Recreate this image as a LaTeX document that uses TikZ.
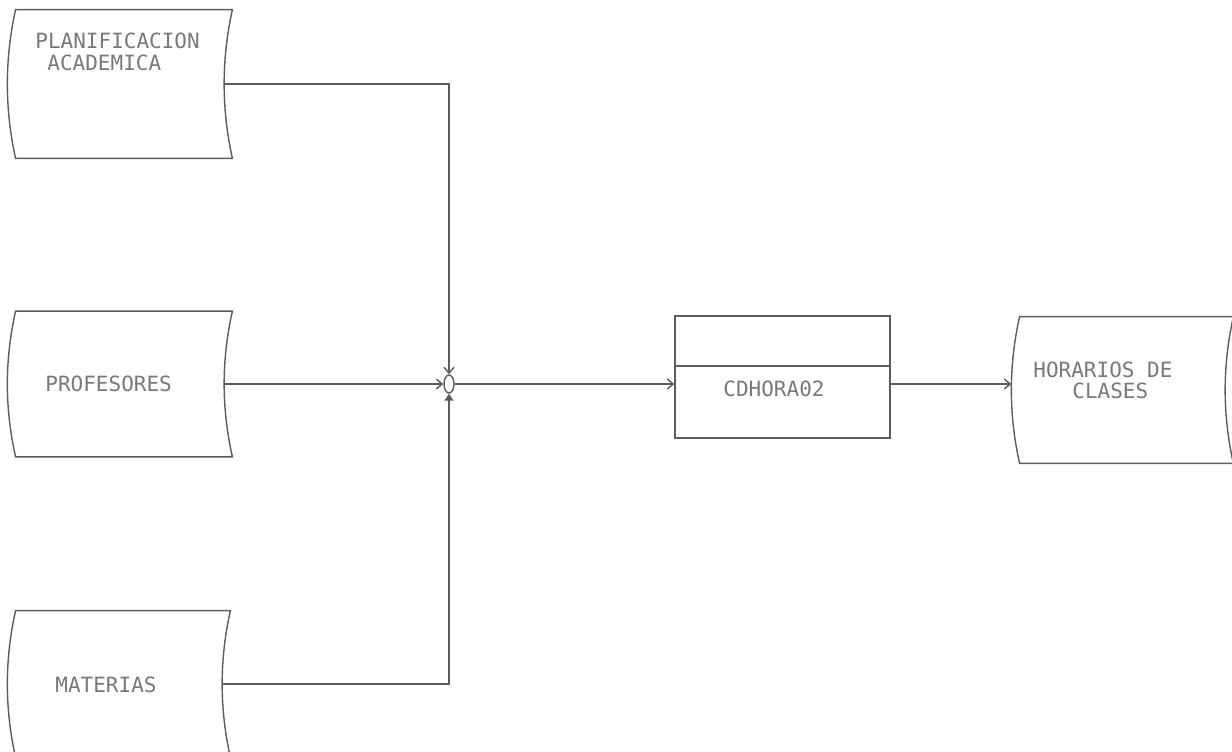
\documentclass[tikz,border=0pt]{standalone}
\usepackage{fontspec}
\newfontfamily\dotfont{DejaVu Sans Mono}
\usetikzlibrary{calc,arrows.meta,shapes.geometric}
\definecolor{linec}{HTML}{5C5C5C}
\definecolor{textc}{HTML}{787878}
\tikzset{
  outline/.style={draw=linec, line width=0.7pt},
  filebox/.style={draw=none, inner sep=0pt},
  procbox/.style={draw=linec, line width=0.7pt, inner sep=0pt},
  junction/.style={ellipse, draw=linec, line width=0.7pt, inner sep=0pt, minimum width=5pt, minimum height=9pt},
  label/.style={text=textc, font=\dotfont\fontsize{10.5}{12}\selectfont, inner sep=0pt, anchor=base west},
  flow/.style={draw=linec, line width=0.7pt, -{Straight Barb[length=3pt,width=5pt]}},
  flowup/.style={draw=linec, line width=0.7pt, -{Triangle[length=3.5pt,width=4.5pt]}}
}
\newcommand\fileshape[1]{%
  \draw[outline] (#1.north west) -- (#1.north east)
    .. controls ($(#1.north east)!0.333!(#1.south east)+(-11,0)$) and ($(#1.north east)!0.667!(#1.south east)+(-11,0)$) .. (#1.south east)
    -- (#1.south west)
    .. controls ($(#1.south west)!0.333!(#1.north west)+(-11,0)$) and ($(#1.south west)!0.667!(#1.north west)+(-11,0)$) .. cycle;}
\begin{document}
\begin{tikzpicture}[x=0.5pt,y=-0.5pt]
\useasboundingbox (0,0) rectangle (1232,751);
% file boxes
\node[filebox, minimum width=108pt, minimum height=74pt] (plan) at (124,84) {};
\node[filebox, minimum width=108pt, minimum height=72.5pt] (prof) at (124,384) {};
\node[filebox, minimum width=107pt, minimum height=73pt] (mat) at (123,684) {};
\node[filebox, minimum width=106.5pt, minimum height=73pt] (hor) at (1126.5,390) {};
\fileshape{plan}
\fileshape{prof}
\fileshape{mat}
\fileshape{hor}
% process box
\node[procbox, minimum width=107.5pt, minimum height=61pt] (cd) at (782.5,377) {};
\draw[outline] (cd.west |- 0,366) -- (cd.east |- 0,366);
% junction
\node[junction] (junc) at (449,384) {};
% texts
\node[label] (t1) at (35,48) {PLANIFICACION};
\node[label] (t2) at (47,70) {ACADEMICA};
\node[label] (t3) at (45,391) {PROFESORES};
\node[label] (t4) at (55,692) {MATERIAS};
\node[label] (t5) at (723,396) {CDHORA02};
\node[label] (t6) at (1033,377) {HORARIOS DE};
\node[label] (t7) at (1072,398) {CLASES};
% connector end points on the curved sides
\coordinate (planR) at ($(plan.east)+(-8.25,0)$);
\coordinate (profR) at ($(prof.east)+(-8.25,0)$);
\coordinate (matR) at ($(mat.east)+(-8.25,0)$);
\coordinate (horL) at ($(hor.west)+(-8.25,0)$);
% connectors
\draw[flow] (planR) -| (junc.north);
\draw[flow] (profR) -- (junc.west);
\draw[flowup] (matR) -| (junc.south);
\draw[flow] (junc.east) -- (junc.east -| cd.west);
\draw[flow] (junc.east -| cd.east) -- (junc.east -| horL);
\end{tikzpicture}
\end{document}
